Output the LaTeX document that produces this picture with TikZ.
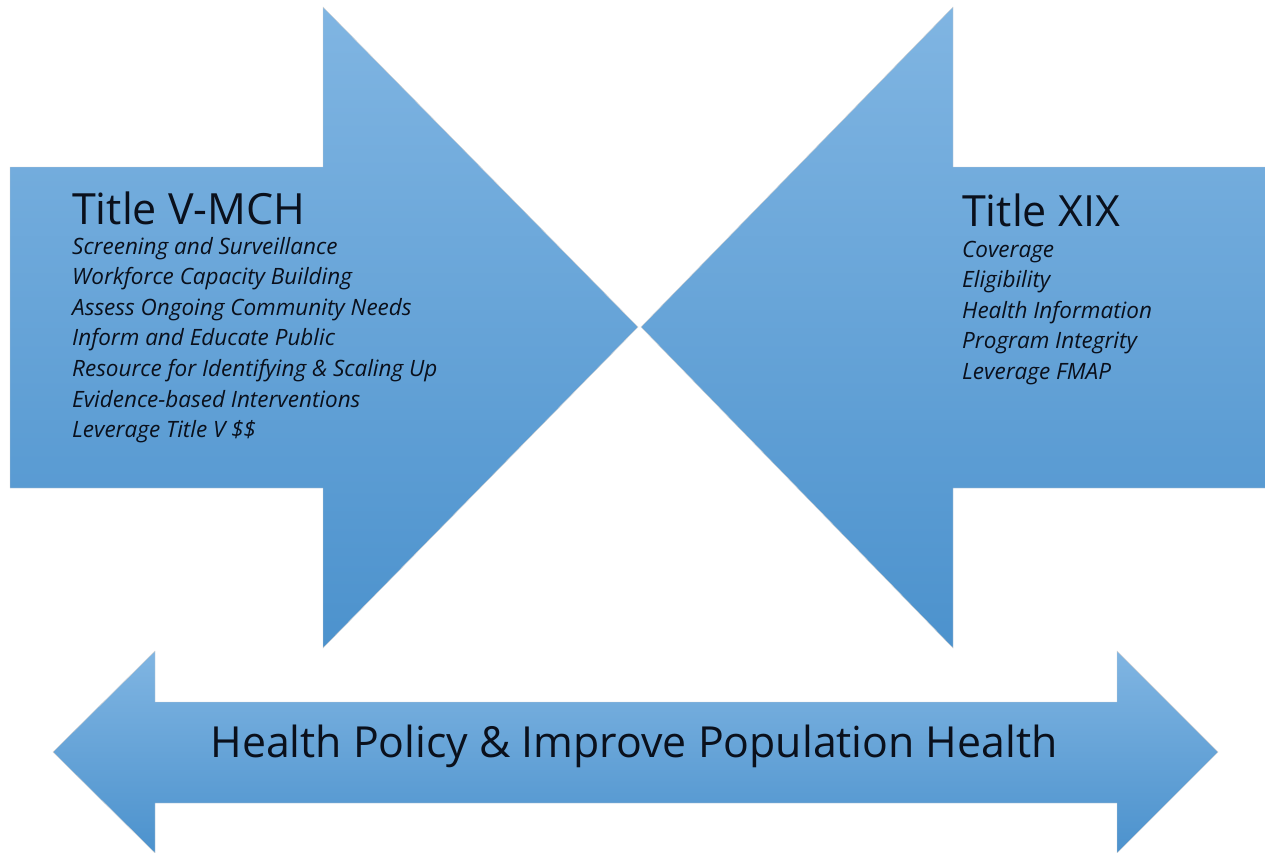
\documentclass[tikz,border=0pt]{standalone}
\usepackage{fontspec}
\setmainfont{Open Sans}
\usetikzlibrary{positioning}
\definecolor{arrowtop}{RGB}{128,181,226}
\definecolor{arrowbot}{RGB}{76,146,205}
\definecolor{inktext}{RGB}{10,16,28}

\begin{document}
\begin{tikzpicture}[x=1pt,y=-1pt,
	bigarrow/.style={top color=arrowtop,bottom color=arrowbot,draw=gray!35,line width=0.4pt},
	headline/.style={font=\fontsize{43}{47}\selectfont,text=inktext,inner sep=0pt,anchor=base west},
	itemline/.style={font=\itshape\fontsize{22.5}{26}\selectfont,text=inktext,inner sep=0pt,anchor=base west},
	banner/.style={font=\fontsize{42.8}{46}\selectfont,text=inktext,inner sep=0pt,anchor=base}]

	\useasboundingbox (0,0) rectangle (1265,852);

	% the three arrows
	\path[bigarrow] (10,167) -- (323,167) -- (323,7) -- (638,327) -- (323,648) -- (323,488) -- (10,488) -- cycle;
	\path[bigarrow] (1266,167) -- (953,167) -- (953,7) -- (641,327) -- (953,648) -- (953,488) -- (1266,488) -- cycle;
	\path[bigarrow] (53,752) -- (155,651) -- (155,702) -- (1117,702) -- (1117,651) -- (1218,752)
		-- (1117,853) -- (1117,803) -- (155,803) -- (155,853) -- cycle;

	% Title V
	\node[headline] (mch) at (72,224) {Title V-MCH};
	\foreach \t [count=\i] in {Screening and Surveillance, Workforce Capacity Building,
		Assess Ongoing Community Needs, Inform and Educate Public,
		Resource for Identifying \& Scaling Up, Evidence-based Interventions, Leverage Title V \$\$}
		\node[itemline] (mch\i) at (72,{223.5+30.6*\i}) {\t};

	% Title XIX
	\node[headline] (xix) at (962,226) {Title XIX};
	\foreach \t [count=\i] in {Coverage, Eligibility, Health Information, Program Integrity, Leverage FMAP}
		\node[itemline] (xix\i) at (962,{226.5+30.6*\i}) {\t};

	\node[banner] (policy) at (634,757) {Health Policy \& Improve Population Health};

\end{tikzpicture}
\end{document}
